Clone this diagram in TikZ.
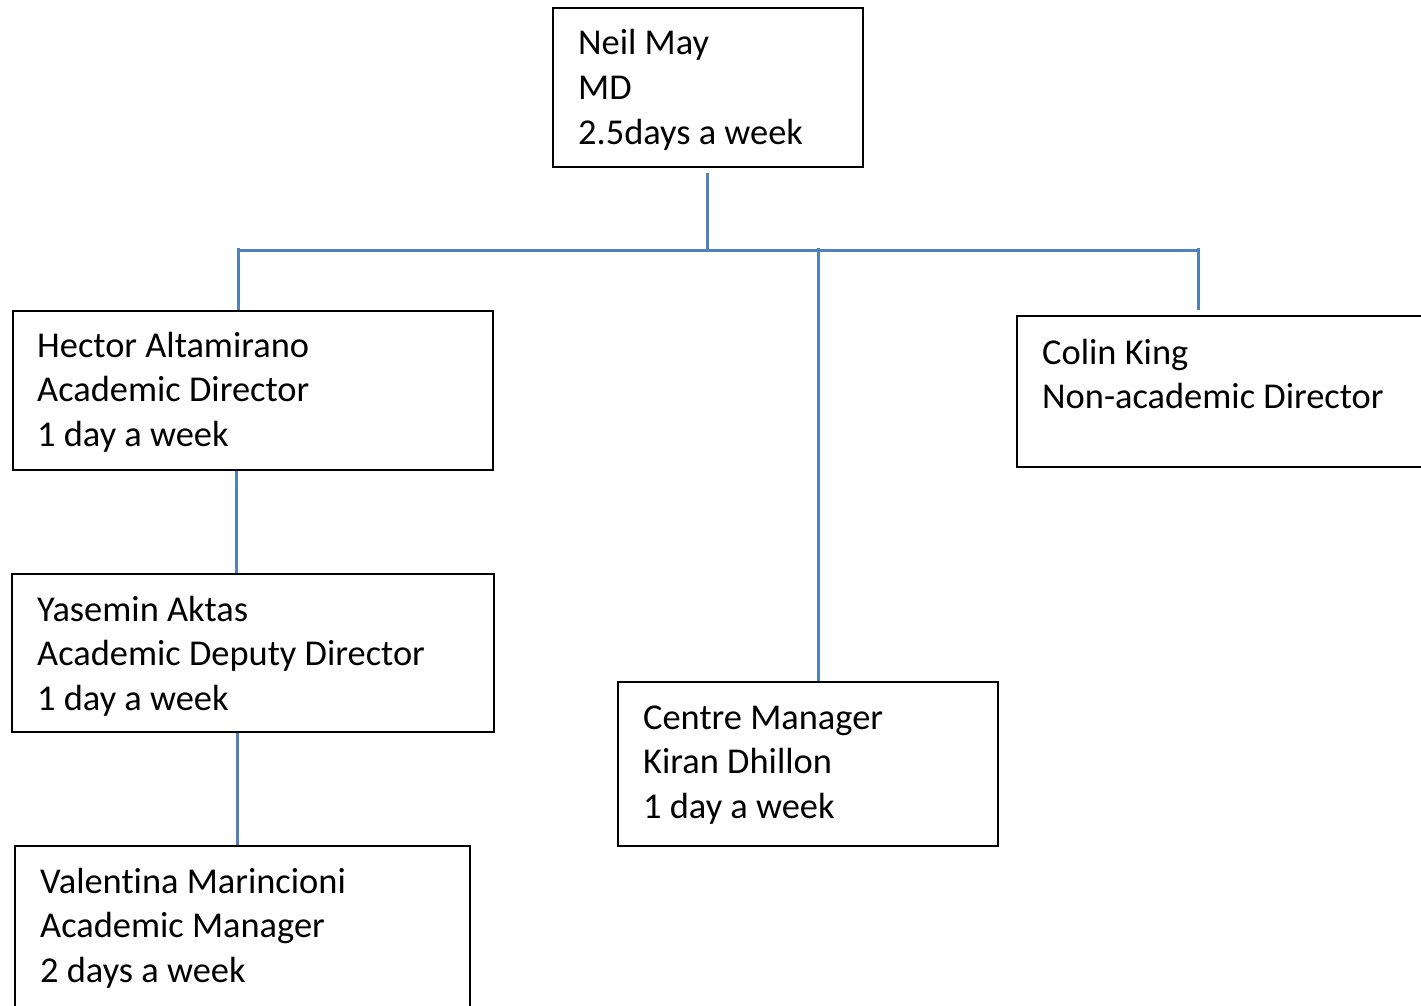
\documentclass[tikz,border=0pt]{standalone}
\usepackage{fontspec}
\setmainfont{Carlito}[Ligatures={NoCommon}]
\begin{document}
\begin{tikzpicture}[x=1pt,y=-1pt,
  box/.style={draw=black, line width=2.4pt, rectangle, inner sep=0pt, anchor=north west, fill=none},
  txt/.style={inner sep=0pt, anchor=base west, align=left, font=\fontsize{36.4}{44.5}\selectfont},
  conn/.style={line width=3pt, color={rgb,255:red,79;green,129;blue,189}}]
\useasboundingbox (0,0) rectangle (1421,1006);
% boxes
\node[box, minimum width=310pt, minimum height=159pt] (neil) at (552,7) {};
\node[box, minimum width=480pt, minimum height=159pt] (hector) at (12,310) {};
\node[box, minimum width=412pt, minimum height=151pt] (colin) at (1016,315) {};
\node[box, minimum width=482pt, minimum height=158pt] (yasemin) at (11,573) {};
\node[box, minimum width=380pt, minimum height=164pt] (centre) at (617,681) {};
\node[box, minimum width=455pt, minimum height=175pt] (valentina) at (14,845) {};
% texts (anchored at baseline of last line)
\node[txt] (tneil) at (578,144) {Neil May\\MD\\2.5days a week};
\node[txt] (thector) at (37,446) {Hector Altamirano\\Academic Director\\1 day a week};
\node[txt] (tcolin) at (1042,408.5) {Colin King\\Non-academic Director};
\node[txt] (tyasemin) at (37,710) {Yasemin Aktas\\Academic Deputy Director\\1 day a week};
\node[txt] (tcentre) at (643,818) {Centre Manager\\Kiran Dhillon\\1 day a week};
\node[txt] (tvalentina) at (40,982) {Valentina Marincioni\\Academic Manager\\2 days a week};
% connector points
\coordinate (top) at (707,173);
\coordinate (mid) at (707,250);
\coordinate (hl) at (238,250);
\coordinate (hr) at (1198,250);
\coordinate (cm) at (818,248);
\coordinate (cr) at (1198,248);
\coordinate (cre) at (1198,310);
% connectors
\draw[conn] (top) -- (mid);
\draw[conn] (hl) -- (hr);
\draw[conn] (hl |- 0,248) -- (hector.north -| hl);
\draw[conn] (cm) -- (centre.north -| cm);
\draw[conn] (cr) -- (cre);
\draw[conn] (236,0 |- hector.south) -- (236,0 |- yasemin.north);
\draw[conn] (237,0 |- yasemin.south) -- (237,0 |- valentina.north);
\end{tikzpicture}
\end{document}
